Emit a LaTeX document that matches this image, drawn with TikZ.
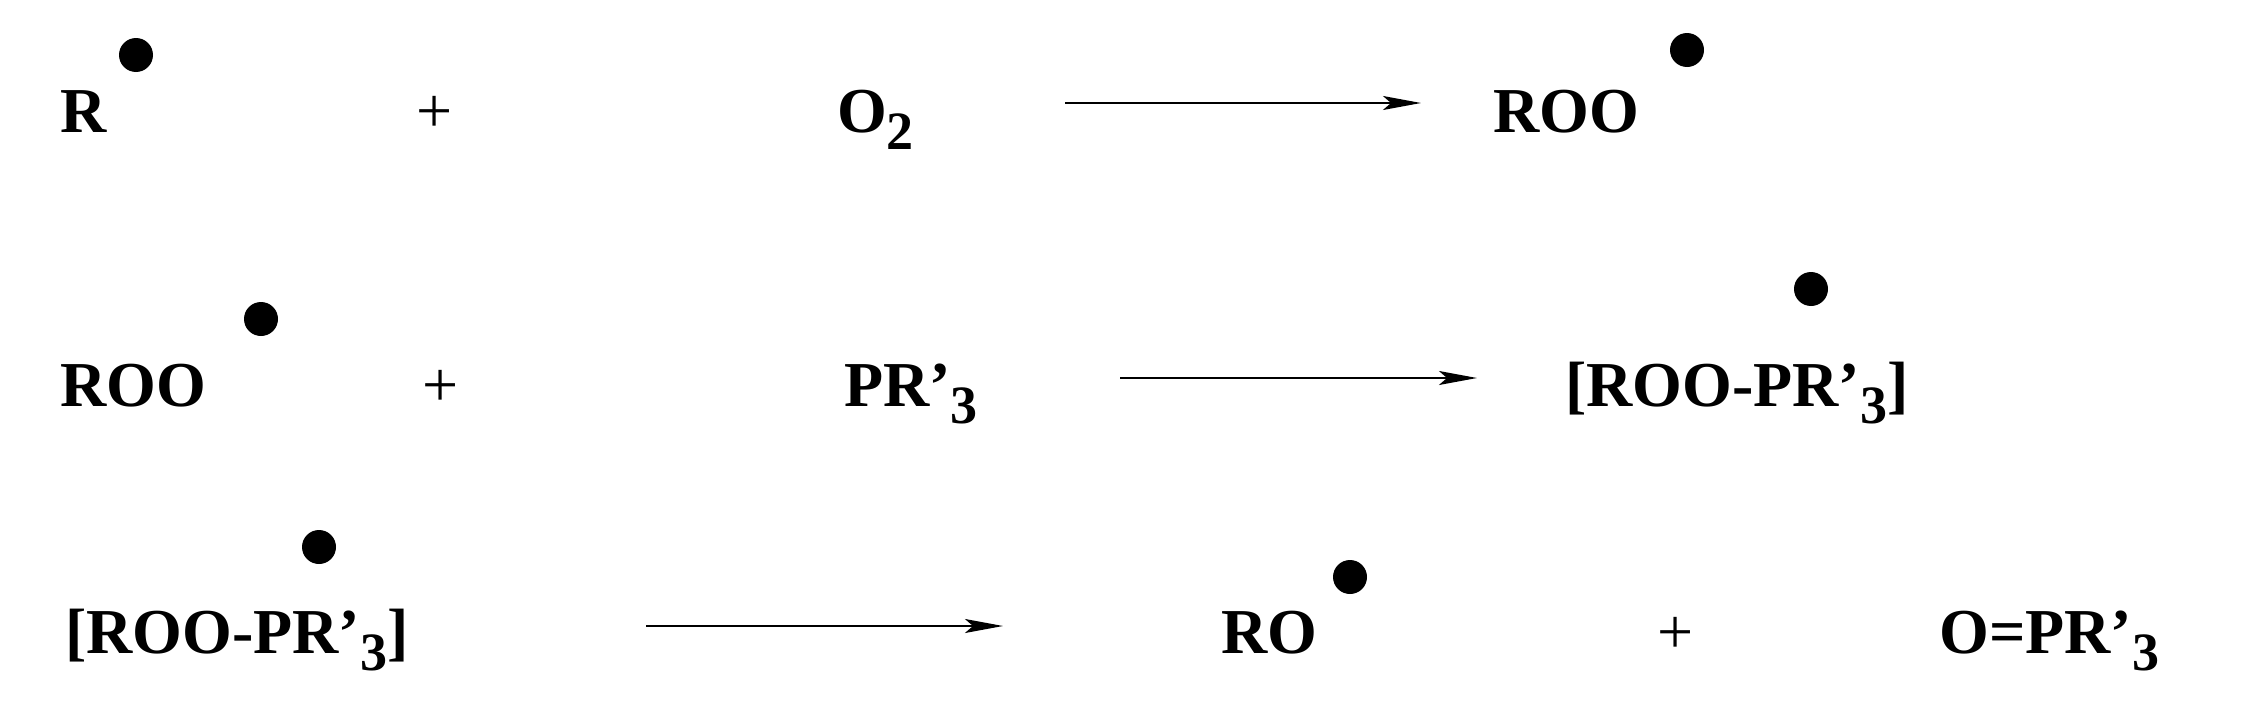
\documentclass[tikz,border=0pt]{standalone}
\usepackage{fontspec}
\setmainfont{Liberation Serif}
\usetikzlibrary{arrows.meta}
\newcommand{\sbs}[1]{\raisebox{-0.28em}{\fontsize{54pt}{54pt}\selectfont #1}}
\begin{document}
\begin{tikzpicture}[x=1pt,y=-1pt,
  chem/.style={anchor=base west,inner sep=0pt,font=\fontsize{64pt}{70pt}\selectfont\bfseries},
  pl/.style={anchor=base,inner sep=0pt,font=\fontsize{64pt}{70pt}\selectfont},
  rad/.style={fill=black,circle,minimum size=34pt,inner sep=0pt},
  rx/.style={line width=2pt,-{Stealth[length=38pt,width=14pt,inset=8pt]}}]
\useasboundingbox (0,0) rectangle (2252,712);
% row 1
\node[chem] (r1a) at (60,132) {R};
\node[rad] (d1a) at (136,55) {};
\node[pl] (p1) at (435,132) {+};
\node[chem] (r1b) at (837,132) {O\sbs{2}};
\coordinate (a1s) at (1065,103); \coordinate (a1e) at (1421,103);
\draw[rx] (a1s) -- (a1e);
\node[chem] (r1c) at (1493,132) {ROO};
\node[rad] (d1c) at (1687,50) {};
% row 2
\node[chem] (r2a) at (60,406) {ROO};
\node[rad] (d2a) at (261,319) {};
\node[pl] (p2) at (441,406) {+};
\node[chem] (r2b) at (844,406) {PR'\sbs{3}};
\coordinate (a2s) at (1120,378); \coordinate (a2e) at (1477,378);
\draw[rx] (a2s) -- (a2e);
\node[chem] (r2c) at (1565,406) {[ROO-PR'\sbs{3}]};
\node[rad] (d2c) at (1811,289) {};
% row 3
\node[chem] (r3a) at (65,653) {[ROO-PR'\sbs{3}]};
\node[rad] (d3a) at (319,547) {};
\coordinate (a3s) at (646,626); \coordinate (a3e) at (1003,626);
\draw[rx] (a3s) -- (a3e);
\node[chem] (r3b) at (1221,653) {RO};
\node[rad] (d3b) at (1350,577) {};
\node[pl] (p3) at (1676,653) {+};
\node[chem] (r3c) at (1939,653) {O=PR'\sbs{3}};
\end{tikzpicture}
\end{document}
